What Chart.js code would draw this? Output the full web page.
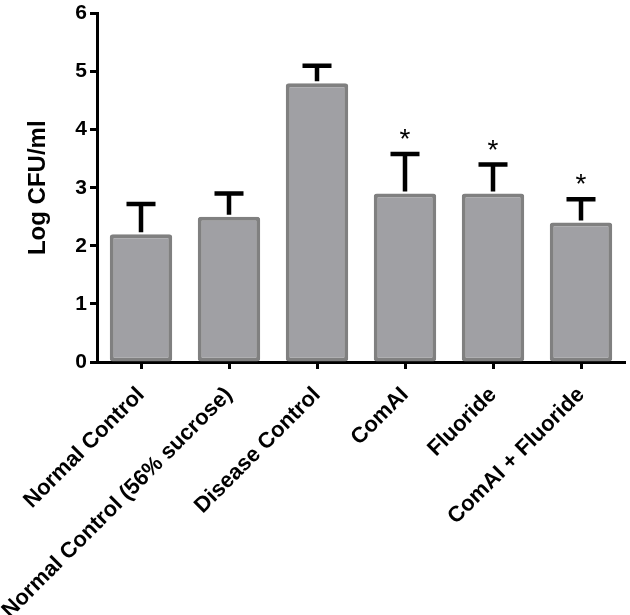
<!DOCTYPE html>
<html>
<head>
<meta charset="utf-8">
<script src="https://cdn.jsdelivr.net/npm/chart.js@4"></script>
<style>
  body { margin: 0; background: #fff; }
  #wrap { width: 630px; height: 615px; }
</style>
</head>
<body>
<div id="wrap"><canvas id="myChart" width="630" height="615"></canvas></div>
<script>
const groups = ['Normal Control', 'Normal Control (56% sucrose)', 'Disease Control', 'ComAI', 'Fluoride', 'ComAI + Fluoride'];
const means = [2.2, 2.5, 4.8, 2.9, 2.9, 2.4];
const errTops = [2.72, 2.9, 5.1, 3.58, 3.4, 2.8];
const marks = ['', '', '', '*', '*', '*'];
const yTicks = [0, 1, 2, 3, 4, 5, 6];

const FONT = "'Liberation Sans', Arial, sans-serif";

// error bars (upper only) and significance stars
const errorBars = {
    id: 'errorBars',
    afterDatasetsDraw(chart) {
        const ctx = chart.ctx;
        const x = chart.scales.x;
        const y = chart.scales.y;
        ctx.save();
        ctx.strokeStyle = '#000';
        ctx.lineWidth = 4.5;
        ctx.lineCap = 'butt';
        means.forEach((m, i) => {
            const cx = x.getPixelForValue(i);
            const y0 = y.getPixelForValue(m);
            const y1 = y.getPixelForValue(errTops[i]);
            ctx.beginPath();
            ctx.moveTo(cx, y0 - 2);
            ctx.lineTo(cx, y1);
            ctx.moveTo(cx - 14.5, y1);
            ctx.lineTo(cx + 14.5, y1);
            ctx.stroke();
            if (marks[i]) {
                ctx.fillStyle = '#000';
                ctx.font = '28px ' + FONT;
                ctx.textAlign = 'center';
                ctx.textBaseline = 'alphabetic';
                ctx.fillText(marks[i], cx, y1 - 6);
            }
        });
        ctx.restore();
    }
};

const ctx = document.getElementById('myChart').getContext('2d');
const myChart = new Chart(ctx, {
    type: 'bar',
    data: {
        labels: groups,
        datasets: [{
            data: means,
            backgroundColor: '#a0a0a4',
            borderColor: '#808080',
            borderWidth: 4,
            borderRadius: 3,
            borderSkipped: false,
            categoryPercentage: 0.71,
            barPercentage: 1.0
        }]
    },
    options: {
        responsive: false,
        animation: false,
        devicePixelRatio: 1,
        layout: { padding: { top: 0, right: 5, left: 0, bottom: 0 } },
        plugins: {
            legend: { display: false },
            tooltip: { enabled: false }
        },
        scales: {
            x: {
                offset: true,
                grid: {
                    display: true,
                    drawOnChartArea: false,
                    drawTicks: true,
                    tickLength: 7,
                    tickWidth: 3,
                    tickColor: '#000',
                    offset: false
                },
                border: { display: true, color: '#000', width: 3 },
                ticks: {
                    color: '#000',
                    font: { family: FONT, size: 22, weight: 'bold' },
                    maxRotation: 45,
                    minRotation: 45,
                    autoSkip: false,
                    padding: 13
                },
                afterFit(scale) { scale.height = 253; }
            },
            y: {
                min: 0,
                max: 6,
                afterBuildTicks(scale) { scale.ticks = yTicks.map(v => ({ value: v })); },
                grid: {
                    display: true,
                    drawOnChartArea: false,
                    tickLength: 7,
                    tickWidth: 3,
                    tickColor: '#000'
                },
                border: { display: true, color: '#000', width: 3 },
                ticks: {
                    color: '#000',
                    font: { family: FONT, size: 21, weight: 'bold', lineHeight: 1.0 },
                    padding: 3
                },
                title: {
                    display: true,
                    text: 'Log CFU/ml',
                    color: '#000',
                    font: { family: FONT, size: 24, weight: 'bold' },
                    padding: { top: 24, bottom: 0 }
                },
                afterFit(scale) { scale.width = 97; }
            }
        }
    },
    plugins: [errorBars]
});
</script>
</body>
</html>
